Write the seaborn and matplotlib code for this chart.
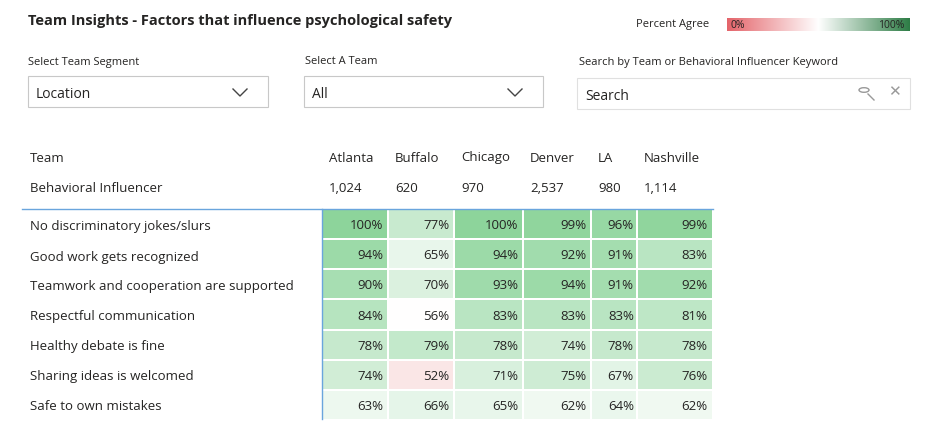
import numpy as np
import pandas as pd
import seaborn as sns
import matplotlib.pyplot as plt
from matplotlib.colors import LinearSegmentedColormap
from matplotlib.patches import Rectangle, Circle
from matplotlib.lines import Line2D

teams = ["Atlanta", "Buffalo", "Chicago", "Denver", "LA", "Nashville"]
counts = ["1,024", "620", "970", "2,537", "980", "1,114"]
influencers = ["No discriminatory jokes/slurs", "Good work gets recognized",
               "Teamwork and cooperation are supported", "Respectful communication",
               "Healthy debate is fine", "Sharing ideas is welcomed", "Safe to own mistakes"]
atlanta = [100, 94, 90, 84, 78, 74, 63]
buffalo = [77, 65, 70, 56, 79, 52, 66]
chicago = [100, 94, 93, 83, 78, 71, 65]
denver = [99, 92, 94, 83, 74, 75, 62]
la = [96, 91, 91, 83, 78, 67, 64]
nashville = [99, 83, 92, 81, 78, 76, 62]

df = pd.DataFrame({"Atlanta": atlanta, "Buffalo": buffalo, "Chicago": chicago,
                   "Denver": denver, "LA": la, "Nashville": nashville}, index=influencers)

W, H = 947, 435
plt.rcParams['font.family'] = ['Open Sans', 'DejaVu Sans']
fig = plt.figure(figsize=(W / 100, H / 100), dpi=100)
fig.patch.set_facecolor("white")

def fx(x): return x / W
def fy(y): return 1 - y / H
def txt(x, y, s, **kw):
    kw.setdefault("fontsize", 9.5)
    kw.setdefault("color", "#252423")
    kw.setdefault("va", "center")
    fig.text(fx(x), fy(y), s, **kw)

cmap = LinearSegmentedColormap.from_list("pa", [(0, "#f8dada"), (0.12, "#ffffff"), (1, "#8dd49b")])

cols = [(322, 388), (388, 454), (454, 523), (523, 591), (591, 637), (637, 713)]
top, bot = 210, 421
for (x0, x1), team in zip(cols, teams):
    ax = fig.add_axes([fx(x0), fy(bot), (x1 - x0) / W, (bot - top) / H])
    sub = df[[team]]
    sns.heatmap(sub, ax=ax, cmap=cmap, vmin=50, vmax=100, cbar=False,
                linewidths=1.2, linecolor="white")
    ax.set_xticks([]); ax.set_yticks([]); ax.set_xlabel(""); ax.set_ylabel("")
    for i, v in enumerate(sub[team]):
        ax.text(0.93, i + 0.52, f"{v}%", ha="right", va="center", fontsize=9.5, color="#252423")

for (x0, x1), team, c in zip(cols, teams, counts):
    txt(x0 + 7, 158, team)
    txt(x0 + 7, 188, c)
txt(30, 158, "Team")
txt(30, 188, "Behavioral Influencer")
for i, name in enumerate(influencers):
    txt(30, 227 + 30 * i, name)

fig.add_artist(Line2D([fx(22), fx(713)], [fy(210), fy(210)], color="#6aa5dd", lw=1))
fig.add_artist(Line2D([fx(322), fx(322)], [fy(210), fy(420)], color="#6aa5dd", lw=1))

txt(28, 21, "Team Insights - Factors that influence psychological safety", fontsize=10.5, fontweight="bold")

txt(636, 25, "Percent Agree", fontsize=8)
lax = fig.add_axes([fx(727), fy(32), (910 - 727) / W, 13 / H])
grad = LinearSegmentedColormap.from_list("lg", ["#e4646a", "#ffffff", "#2e7d46"])
lax.imshow(np.linspace(0, 1, 256)[None, :], aspect="auto", cmap=grad)
lax.set_axis_off()
txt(730, 25, "0%", fontsize=7.5)
txt(878, 25, "100%", fontsize=7.5)

txt(28, 62, "Select Team Segment", fontsize=8)
txt(305, 61, "Select A Team", fontsize=8)
txt(579, 62, "Search by Team or Behavioral Influencer Keyword", fontsize=8)
for x0, x1, label in [(28, 268, "Location"), (304, 543, "All")]:
    fig.add_artist(Rectangle((fx(x0), fy(108)), (x1 - x0) / W, 31 / H, fill=False, ec="#c8c8c8", lw=0.8))
    txt(x0 + 8, 94, label, fontsize=10)
    cx = x1 - 28
    fig.add_artist(Line2D([fx(cx - 7), fx(cx), fx(cx + 7)], [fy(90), fy(97), fy(90)], color="#444", lw=1))
fig.add_artist(Rectangle((fx(577), fy(110)), (910 - 577) / W, 31 / H, fill=False, ec="#e0e0e0", lw=0.8))
txt(585, 96, "Search", fontsize=10)
# magnifier icon
fig.add_artist(Circle((fx(864), fy(91)), 5 / W, fill=False, ec="#999", lw=1, transform=fig.transFigure))
fig.add_artist(Line2D([fx(868), fx(874)], [fy(95), fy(101)], color="#999", lw=1))
txt(888, 92, "\u2715", fontsize=11, color="#999", family=["DejaVu Sans"])

fig.savefig("out.png", dpi=100)
